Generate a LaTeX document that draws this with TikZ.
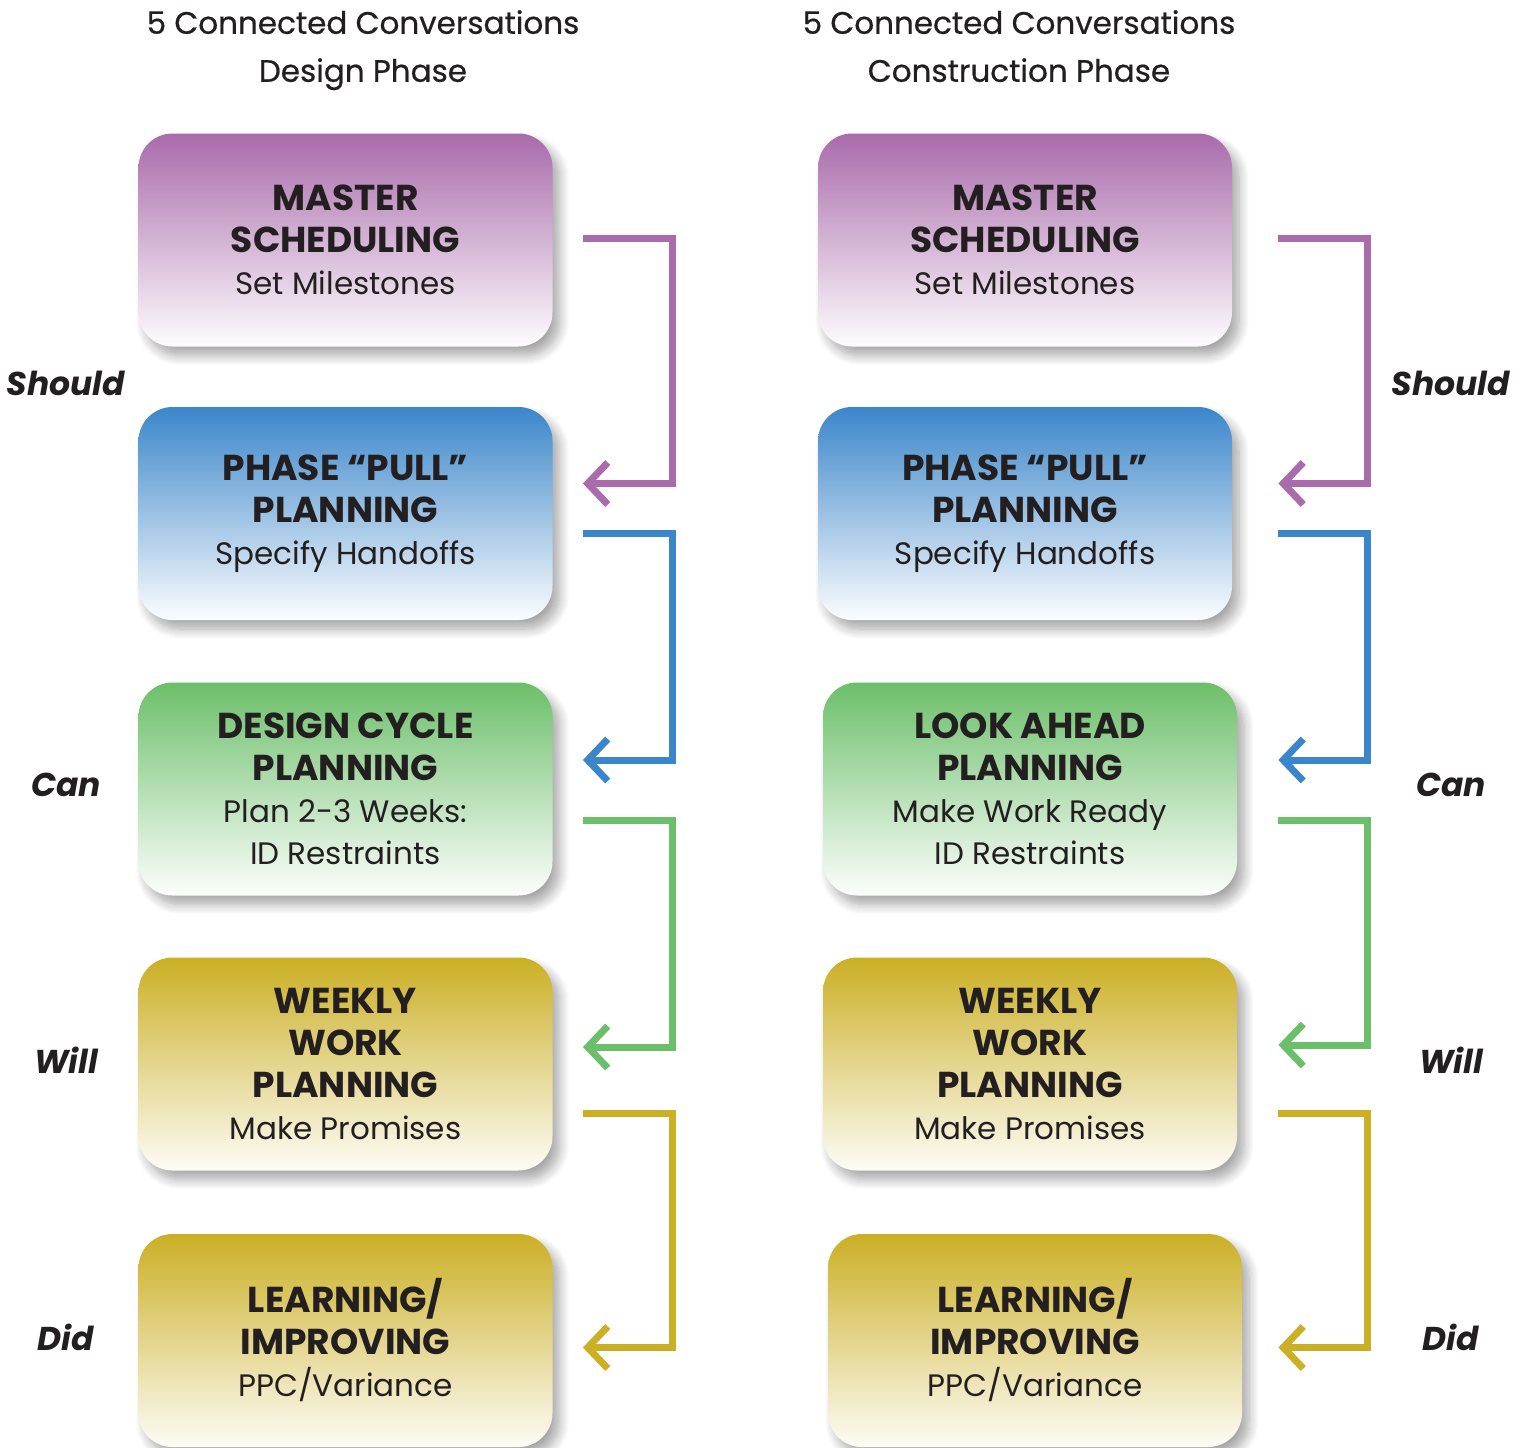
\documentclass[tikz,border=0pt]{standalone}
\usepackage{fontspec}
\setmainfont{Poppins}
\newfontfamily\titlefont[FakeBold=0.6]{Poppins}
\usetikzlibrary{arrows.meta,calc,shadows.blur}

\definecolor{ink}{HTML}{231F20}
\definecolor{cpurple}{HTML}{A96BAB}
\definecolor{cblue}{HTML}{3B86CA}
\definecolor{cgreen}{HTML}{6CBF6A}
\definecolor{cyellow}{HTML}{CBAF24}

\newcommand{\hd}[1]{{\fontsize{18}{21}\selectfont\bfseries #1}}

\begin{document}
\begin{tikzpicture}[x=0.5pt,y=-0.5pt,line join=miter,
	box/.style={rounded corners=17pt, minimum width=207pt, minimum height=106.5pt,
		inner sep=0pt, align=center, text=ink, font=\fontsize{15.5}{21}\selectfont,
		blur shadow={shadow xshift=3.5pt, shadow yshift=-4.5pt, shadow blur steps=10, shadow blur radius=5pt, shadow opacity=35}},
	purplebox/.style={box, top color=cpurple, bottom color=cpurple!2},
	bluebox/.style={box, top color=cblue, bottom color=cblue!2},
	greenbox/.style={box, top color=cgreen, bottom color=cgreen!2},
	yellowbox/.style={box, top color=cyellow, bottom color=cyellow!4},
	link/.style={line width=3.5pt, -{Straight Barb[length=10pt,width=21pt]}},
	word/.style={text=ink, font=\bfseries\itshape\fontsize{16.5}{20}\selectfont},
	title/.style={text=ink, font=\titlefont\fontsize{15.5}{24}\selectfont, align=center, text depth=0pt}]

	\useasboundingbox (0, 0) rectangle (1530, 1447);

	% headings
	\node [title] (tleft) at (363, 46) {5 Connected Conversations\\Design Phase};
	\node [title] (tright) at (1019, 46) {5 Connected Conversations\\Construction Phase};

	% design phase
	\node [purplebox] (ms) at (345.5, 240) {\hd{MASTER}\\\hd{SCHEDULING}\\Set Milestones};
	\node [bluebox] (pp) at (345.5, 513.5) {\hd{PHASE “PULL”}\\\hd{PLANNING}\\Specify Handoffs};
	\node [greenbox] (dc) at (345.5, 789) {\hd{DESIGN CYCLE}\\\hd{PLANNING}\\Plan 2-3 Weeks:\\ID Restraints};
	\node [yellowbox] (ww) at (345.5, 1064) {\hd{WEEKLY}\\\hd{WORK}\\\hd{PLANNING}\\Make Promises};
	\node [yellowbox] (li) at (345.5, 1340.5) {\hd{LEARNING/}\\\hd{IMPROVING}\\PPC/Variance};

	\draw [link, cpurple] ($(ms.east)+(30,-2)$) -- ++(90,0) |- ($(pp.east)+(30,-30)$);
	\draw [link, cblue] ($(pp.east)+(30,20)$) -- ++(90,0) |- ($(dc.east)+(30,-29)$);
	\draw [link, cgreen] ($(dc.east)+(30,31)$) -- ++(90,0) |- ($(ww.east)+(30,-17)$);
	\draw [link, cyellow] ($(ww.east)+(30,49)$) -- ++(90,0) |- ($(li.east)+(30,7)$);

	\node [word] (lshould) at (66, 383) {Should};
	\node [word] (lcan) at (66, 785) {Can};
	\node [word] (lwill) at (66, 1060) {Will};
	\node [word] (ldid) at (66, 1337) {Did};

	% construction phase
	\node [purplebox] (rms) at (1025, 240) {\hd{MASTER}\\\hd{SCHEDULING}\\Set Milestones};
	\node [bluebox] (rpp) at (1025, 513.5) {\hd{PHASE “PULL”}\\\hd{PLANNING}\\Specify Handoffs};
	\node [greenbox] (rla) at (1030, 789) {\hd{LOOK AHEAD}\\\hd{PLANNING}\\Make Work Ready\\ID Restraints};
	\node [yellowbox] (rww) at (1030, 1064) {\hd{WEEKLY}\\\hd{WORK}\\\hd{PLANNING}\\Make Promises};
	\node [yellowbox] (rli) at (1035, 1340.5) {\hd{LEARNING/}\\\hd{IMPROVING}\\PPC/Variance};

	\draw [link, cpurple] ($(rms.east)+(46,-2)$) -- ++(89,0) |- ($(rpp.east)+(46,-30)$);
	\draw [link, cblue] ($(rpp.east)+(46,20)$) -- ++(89,0) |- ($(rla.east)+(41,-29)$);
	\draw [link, cgreen] ($(rla.east)+(41,31)$) -- ++(89,0) |- ($(rww.east)+(41,-19)$);
	\draw [link, cyellow] ($(rww.east)+(41,49)$) -- ++(89,0) |- ($(rli.east)+(36,7)$);

	\node [word] (rshould) at (1451, 383) {Should};
	\node [word] (rcan) at (1451, 785) {Can};
	\node [word] (rwill) at (1451, 1060) {Will};
	\node [word] (rdid) at (1451, 1337) {Did};

\end{tikzpicture}
\end{document}
